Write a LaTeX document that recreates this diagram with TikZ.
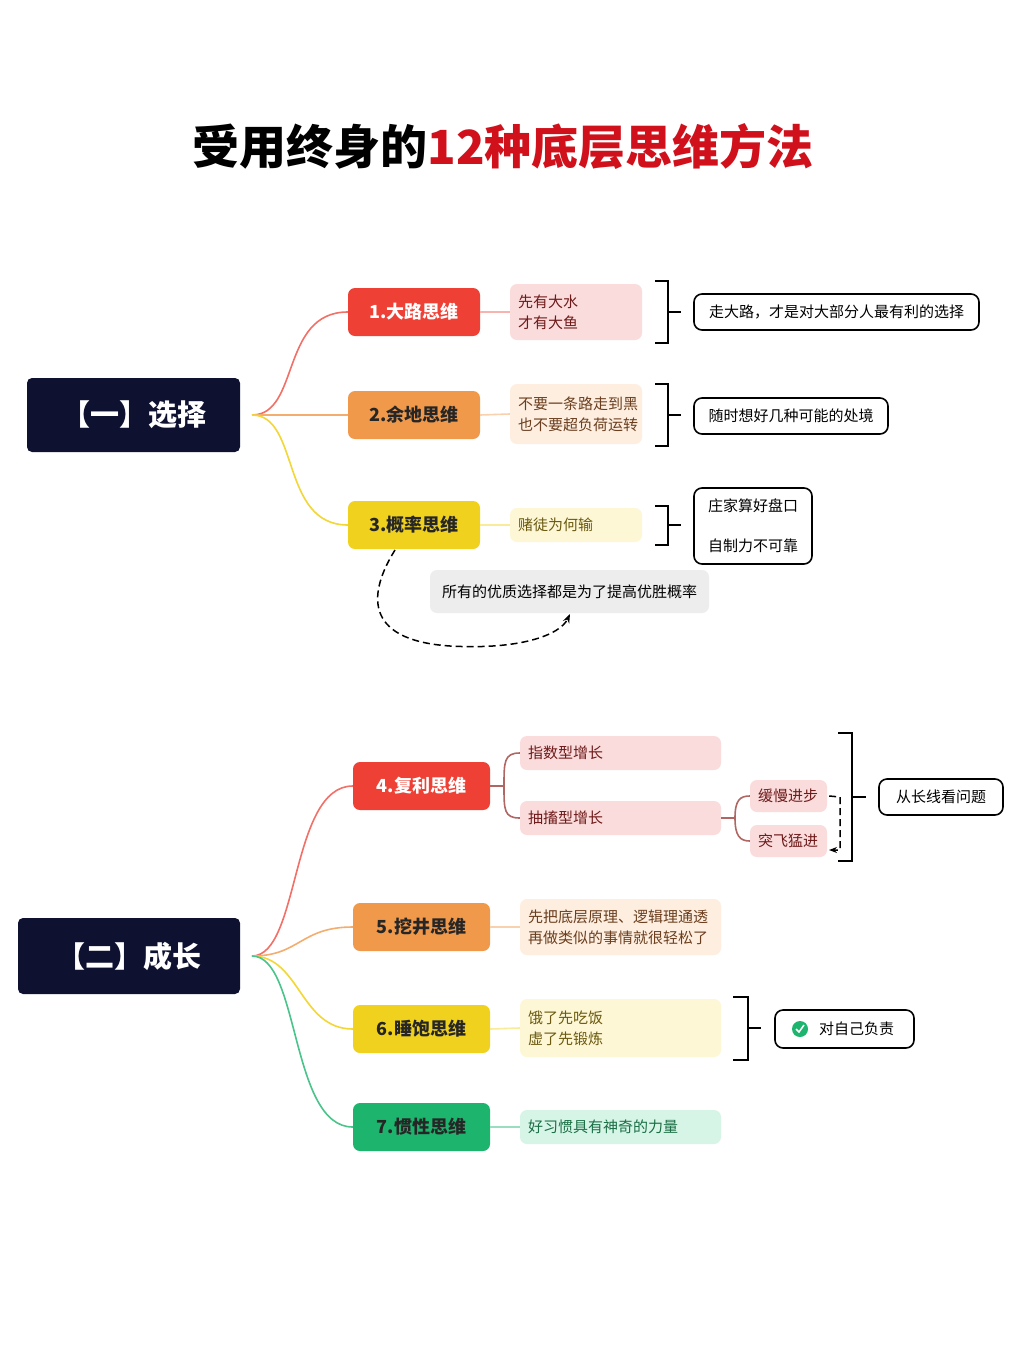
\documentclass[tikz,border=0pt]{standalone}
\usepackage{fontspec}
\setmainfont{Noto Sans CJK SC}
\usetikzlibrary{arrows.meta}
\definecolor{navy}{HTML}{0E1130}
\definecolor{cred}{HTML}{EE4035}
\definecolor{cora}{HTML}{F0994A}
\definecolor{cyel}{HTML}{F0D21E}
\definecolor{cgrn}{HTML}{1DB56E}
\definecolor{pred}{HTML}{FBDCDC}
\definecolor{pora}{HTML}{FDEEE0}
\definecolor{pyel}{HTML}{FDF7D6}
\definecolor{pgrn}{HTML}{D6F5E6}
\definecolor{titred}{HTML}{D0101B}
\definecolor{tred}{HTML}{6E1A1A}
\definecolor{tora}{HTML}{6B3E1E}
\definecolor{tyel}{HTML}{6B5A10}
\definecolor{tgrn}{HTML}{1B6E45}
\tikzset{
 cat/.style={fill=navy,rounded corners=5pt,text=white,font=\bfseries\fontsize{29}{32}\selectfont,inner sep=0},
 br/.style={rounded corners=7pt,minimum height=48pt,font=\bfseries\fontsize{18}{20}\selectfont,inner sep=0},
 det/.style={rounded corners=7pt,font=\fontsize{15}{21}\selectfont,align=left,inner sep=0,minimum width=#1,text width=#1-16pt},
 rb/.style={draw=black,line width=1.6pt,rounded corners=8pt,fill=white,font=\fontsize{15}{20}\selectfont,inner sep=0},
 brk/.style={line width=1.8pt},
 link/.style={line width=1.6pt},
 dsh/.style={line width=1.5pt,dash pattern=on 7pt off 4pt}
}
\begin{document}
\begin{tikzpicture}[x=1pt,y=-1pt]
\useasboundingbox (0,0) rectangle (1020,1358);
\fill[white] (0,0) rectangle (1020,1358);
\node (title) at (503,147) {\bfseries\fontsize{47}{50}\selectfont 受用终身的\textcolor{titred}{12种底层思维方法}};
% section 1
\node[cat,minimum width=213pt,minimum height=74pt] (c1) at (133.5,415) {【一】选择};
\node[br,fill=cred,text=white,minimum width=132pt] (b1) at (414,312) {1.大路思维};
\node[br,fill=cora,text=black!85,minimum width=132pt] (b2) at (414,415) {2.余地思维};
\node[br,fill=cyel,text=black!85,minimum width=132pt] (b3) at (414,525) {3.概率思维};
\coordinate (s1) at (252,415);
\draw[link,draw=cred!75] (s1) .. controls (300,415) and (280,312) .. (b1.west);
\draw[link,draw=cora!80] (s1) -- (b2.west);
\draw[link,draw=cyel!90] (s1) .. controls (300,415) and (280,525) .. (b3.west);
\node[det=132pt,fill=pred,minimum height=56pt,text=tred] (d1) at (576,312) {先有大水\\才有大鱼};
\node[det=132pt,fill=pora,minimum height=60pt,text=tora] (d2) at (576,414) {不要一条路走到黑\\也不要超负荷运转};
\node[det=132pt,fill=pyel,minimum height=34pt,text=tyel] (d3) at (576,525) {赌徒为何输};
\draw[link,draw=cred!40] (b1.east) -- (d1.west);
\draw[link,draw=cora!45] (b2.east) -- (d2.west);
\draw[link,draw=cyel!45] (b3.east) -- (d3.west);
\draw[brk] (655,281) -- (668,281) -- (668,343) -- (655,343) (668,312) -- (681,312);
\draw[brk] (655,384) -- (668,384) -- (668,446) -- (655,446) (668,415) -- (681,415);
\draw[brk] (655,506) -- (668,506) -- (668,545) -- (655,545) (668,525) -- (681,525);
\node[rb,minimum width=285pt,minimum height=36pt] (r1) at (836.5,312) {走大路，才是对大部分人最有利的选择};
\node[rb,minimum width=194pt,minimum height=36pt] (r2) at (791,416) {随时想好几种可能的处境};
\node[rb,minimum width=118pt,minimum height=76pt,align=left,font=\fontsize{15}{40}\selectfont] (r3) at (753,526) {庄家算好盘口\\自制力不可靠};
\node[fill=black!7,rounded corners=7pt,minimum width=279pt,minimum height=43pt,font=\fontsize{15}{20}\selectfont,inner sep=0] (g1) at (569.5,591.5) {所有的优质选择都是为了提高优胜概率};
\draw[dsh,-{Stealth[length=9pt]}] (395,550) .. controls (370,590) and (360,640) .. (450,646) .. controls (520,650) and (560,635) .. (570,614);
% section 2
\node[cat,minimum width=222pt,minimum height=76pt] (c2) at (129,956) {【二】成长};
\node[br,fill=cred,text=white,minimum width=137pt] (b4) at (421.5,786) {4.复利思维};
\node[br,fill=cora,text=black!85,minimum width=137pt] (b5) at (421.5,927) {5.挖井思维};
\node[br,fill=cyel,text=black!85,minimum width=137pt] (b6) at (421.5,1029) {6.睡饱思维};
\node[br,fill=cgrn,text=black!85,minimum width=137pt] (b7) at (421.5,1127) {7.惯性思维};
\coordinate (s2) at (252,956);
\draw[link,draw=cred!75] (s2) .. controls (300,956) and (290,786) .. (b4.west);
\draw[link,draw=cora!80] (s2) .. controls (300,956) and (300,927) .. (b5.west);
\draw[link,draw=cyel!90] (s2) .. controls (300,956) and (300,1029) .. (b6.west);
\draw[link,draw=cgrn!80] (s2) .. controls (300,956) and (290,1127) .. (b7.west);
\node[det=201pt,fill=pred,minimum height=34pt,text=tred] (d4a) at (620.5,753) {指数型增长};
\node[det=201pt,fill=pred,minimum height=34pt,text=tred] (d4b) at (620.5,818) {抽搐型增长};
\node[det=201pt,fill=pora,minimum height=56pt,text=tora] (d5) at (620.5,927) {先把底层原理、逻辑理通透\\再做类似的事情就很轻松了};
\node[det=201pt,fill=pyel,minimum height=58pt,text=tyel] (d6) at (620.5,1028) {饿了先吃饭\\虚了先锻炼};
\node[det=201pt,fill=pgrn,minimum height=34pt,text=tgrn] (d7) at (620.5,1127) {好习惯具有神奇的力量};
\draw[link,draw=cred!60!black!70] (b4.east) -- (504,786) (504,786) .. controls (504,762) and (504,753) .. (d4a.west) (504,786) .. controls (504,810) and (504,818) .. (d4b.west);
\draw[link,draw=cora!45] (b5.east) -- (d5.west);
\draw[link,draw=cyel!45] (b6.east) -- (d6.west);
\draw[link,draw=cgrn!45] (b7.east) -- (d7.west);
\node[det=77pt,fill=pred,minimum height=32pt,text=tred] (e1) at (788.5,796) {缓慢进步};
\node[det=77pt,fill=pred,minimum height=32pt,text=tred] (e2) at (788.5,841) {突飞猛进};
\draw[link,draw=cred!60!black!70] (d4b.east) -- (735,818) (735,818) .. controls (735,800) and (740,796) .. (e1.west) (735,818) .. controls (735,836) and (740,841) .. (e2.west);
\draw[dsh,-{Stealth[length=8pt]}] (e1.east)++(2,0) -- (840,797) -- (840,850) -- (829,850);
\draw[brk] (838,733) -- (852,733) -- (852,861) -- (838,861) (852,797) -- (866,797);
\node[rb,minimum width=124pt,minimum height=36pt] (r4) at (941,797) {从长线看问题};
\draw[brk] (733,997) -- (748,997) -- (748,1060) -- (733,1060) (748,1028) -- (761,1028);
\node[rb,minimum width=139pt,minimum height=38pt] (r6) at (844.5,1029) {\hspace*{24pt}对自己负责};
\fill[cgrn] (800,1029) circle (8pt);
\draw[white,line width=1.5pt] (796,1029) -- (799,1032) -- (804,1025);
\end{tikzpicture}
\end{document}
